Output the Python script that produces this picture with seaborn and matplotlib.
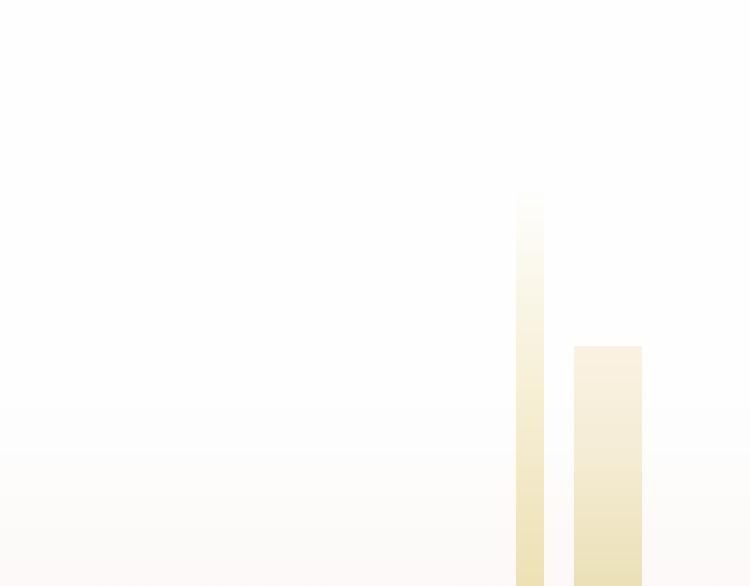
import numpy as np
import pandas as pd
import matplotlib
matplotlib.use("Agg")
import matplotlib.pyplot as plt
from matplotlib.colors import LinearSegmentedColormap
import seaborn as sns

# data
categories = ["A", "B"]
values = [66, 40]

# style
bar_widths = [0.344, 0.866]
grad_top = ["#fefefc", "#fbf2e3"]
grad_mid = ["#f7f0d6", "#f4ecd3"]
grad_bot = ["#eee1b5", "#ebe0b6"]

sns.set_theme(style="white")
fig = plt.figure(figsize=(7.5, 5.86), dpi=100)
ax = fig.add_axes([0, 0, 1, 1])

df = pd.DataFrame({"cat": categories, "val": values})
sns.barplot(data=df, x="cat", y="val", ax=ax, color="#efe3b9", saturation=1, width=0.5)

ax.set_xlim(-6.745, 2.809)
ax.set_ylim(0, 97.7)
ax.set_axis_off()
fig.patch.set_facecolor("white")

# subtle background tint near bottom
bg = LinearSegmentedColormap.from_list(
    "bg", [(0, "#ffffff"), (0.7, "#fefefe"), (0.85, "#fdfcfb"), (1, "#fcf9f8")])
grad = np.linspace(0, 1, 256).reshape(-1, 1)
ax.imshow(grad, cmap=bg, aspect="auto", extent=[-6.745, 2.809, 0, 97.7], origin="upper",
          zorder=0, vmin=0, vmax=1)

for i, p in enumerate(ax.patches):
    cx = p.get_x() + p.get_width() / 2
    w = bar_widths[i]
    p.set_x(cx - w / 2)
    p.set_width(w)
    p.set_facecolor("none")
    p.set_edgecolor("none")
    x0, y0 = p.get_x(), p.get_y()
    h = p.get_height()
    cmap = LinearSegmentedColormap.from_list(f"g{i}", [grad_bot[i], grad_mid[i], grad_top[i]])
    g = np.linspace(0, 1, 256).reshape(-1, 1)
    im = ax.imshow(g, cmap=cmap, aspect="auto", extent=[x0, x0 + w, y0, y0 + h],
                   origin="lower", zorder=2)
    im.set_clip_path(p)

ax.set_xlim(-6.745, 2.809)
ax.set_ylim(0, 97.7)
fig.savefig("out.png", dpi=100)
